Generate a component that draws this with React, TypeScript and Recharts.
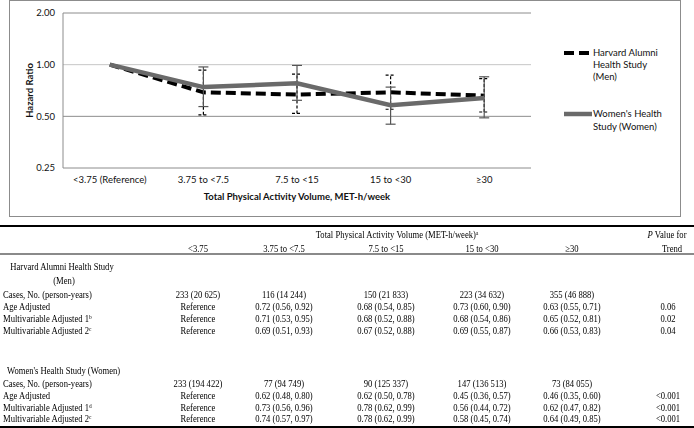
import React from 'react';
import { LineChart, Line, XAxis, YAxis, ErrorBar, ReferenceLine, Label } from 'recharts';

// ---------- chart data ----------
const categories = ['<3.75 (Reference)', '3.75 to <7.5', '7.5 to <15', '15 to <30', '≥30'];
const menHR = [1.0, 0.69, 0.67, 0.69, 0.66];
const menLow = [null, 0.51, 0.52, 0.55, 0.53];
const menHigh = [null, 0.93, 0.88, 0.87, 0.83];
const womenHR = [1.0, 0.74, 0.78, 0.58, 0.64];
const womenLow = [null, 0.57, 0.62, 0.45, 0.49];
const womenHigh = [null, 0.97, 0.99, 0.74, 0.85];
const yTicks = [0.25, 0.5, 1, 2];
const gridLevels = [2, 1, 0.5];

// ---------- table data ----------
const tableCols = ['<3.75', '3.75 to <7.5', '7.5 to <15', '15 to <30', '≥30'];
const menCases = ['233 (20 625)', '116 (14 244)', '150 (21 833)', '223 (34 632)', '355 (46 888)'];
const menAge = ['Reference', '0.72 (0.56, 0.92)', '0.68 (0.54, 0.85)', '0.73 (0.60, 0.90)', '0.63 (0.55, 0.71)'];
const menMA1 = ['Reference', '0.71 (0.53, 0.95)', '0.68 (0.52, 0.88)', '0.68 (0.54, 0.86)', '0.65 (0.52, 0.81)'];
const menMA2 = ['Reference', '0.69 (0.51, 0.93)', '0.67 (0.52, 0.88)', '0.69 (0.55, 0.87)', '0.66 (0.53, 0.83)'];
const menP = ['', '0.06', '0.02', '0.04'];
const womenCases = ['233 (194 422)', '77 (94 749)', '90 (125 337)', '147 (136 513)', '73 (84 055)'];
const womenAge = ['Reference', '0.62 (0.48, 0.80)', '0.62 (0.50, 0.78)', '0.45 (0.36, 0.57)', '0.46 (0.35, 0.60)'];
const womenMA1 = ['Reference', '0.73 (0.56, 0.96)', '0.78 (0.62, 0.99)', '0.56 (0.44, 0.72)', '0.62 (0.47, 0.82)'];
const womenMA2 = ['Reference', '0.74 (0.57, 0.97)', '0.78 (0.62, 0.99)', '0.58 (0.45, 0.74)', '0.64 (0.49, 0.85)'];
const womenP = ['', '<0.001', '<0.001', '<0.001'];

const chartData = categories.map((cat, i) => ({
  cat,
  men: menHR[i],
  women: womenHR[i],
  menErr: menLow[i] == null ? null : [menHR[i] - (menLow[i] as number), (menHigh[i] as number) - menHR[i]],
  womenErr: womenLow[i] == null ? null : [womenHR[i] - (womenLow[i] as number), (womenHigh[i] as number) - womenHR[i]],
}));

const chartFont = 'Lato, "DejaVu Sans", sans-serif';
const tableFont = '"Liberation Serif", "Times New Roman", serif';

const colX = [198, 284, 386, 482, 572];
const pX = 668;
const SX = 0.86; // horizontal squeeze of the table text

const supStyle = { fontSize: 6.2, verticalAlign: 'top', lineHeight: '8px' };

const T = ({ x, y, children, align = 'center' }: any) => {
  const w = 260;
  const xs = x / SX;
  const left = align === 'center' ? xs - w / 2 : align === 'left' ? xs : xs - w;
  return (
    <div
      style={{
        position: 'absolute',
        left,
        top: y - 6,
        width: w,
        height: 12,
        lineHeight: '12px',
        textAlign: align,
        whiteSpace: 'nowrap',
      }}
    >
      {children}
    </div>
  );
};

const Row = ({ y, label, vals, p }: any) => (
  <>
    <T x={3} y={y} align="left">{label}</T>
    {vals.map((v: string, i: number) => (
      <T key={i} x={colX[i]} y={y}>{v}</T>
    ))}
    {p ? <T x={pX} y={y}>{p}</T> : null}
  </>
);

export default function App() {
  return (
    <div style={{ position: 'absolute', left: 0, top: 0, width: 694, height: 428, background: '#fff', overflow: 'hidden' }}>
      {/* chart frame */}
      <div style={{ position: 'absolute', left: 9, top: 0, width: 670, height: 215, border: '1px solid #8c8c8c' }} />
      <div style={{ position: 'absolute', left: 0, top: 0 }}>
        <LineChart width={694} height={216} data={chartData} margin={{ top: 13, right: 163, bottom: 18, left: 0 }}>
          <XAxis
            dataKey="cat"
            scale="band"
            axisLine={{ stroke: '#8c8c8c', strokeWidth: 1 }}
            tickLine={false}
            height={30}
            tick={{ fontFamily: chartFont, fontSize: 9.5, fill: '#111' }}
            interval={0}
          >
            <Label
              value="Total Physical Activity Volume, MET-h/week"
              position="insideBottom"
              offset={-2}
              style={{ fontFamily: chartFont, fontSize: 9.5, fontWeight: 700, fill: '#111' }}
            />
          </XAxis>
          <YAxis
            type="number"
            scale="log"
            domain={[0.25, 2]}
            ticks={yTicks}
            allowDataOverflow
            width={63}
            axisLine={{ stroke: '#8c8c8c', strokeWidth: 1 }}
            tickLine={false}
            tickFormatter={(v: number) => v.toFixed(2)}
            tick={{ fontFamily: chartFont, fontSize: 9.5, fill: '#111' }}
          >
            <Label
              value="Hazard Ratio"
              angle={-90}
              position="center"
              dx={-2}
              style={{ fontFamily: chartFont, fontSize: 9.5, fontWeight: 700, fill: '#111', textAnchor: 'middle' }}
            />
          </YAxis>
          {gridLevels.map((g) => (
            <ReferenceLine key={g} y={g} stroke={g === 1 ? '#c6c6c6' : '#8c8c8c'} strokeWidth={1} ifOverflow="extendDomain" />
          ))}
          <Line
            dataKey="men"
            stroke="#000"
            strokeWidth={4}
            strokeDasharray="10 5"
            dot={false}
            activeDot={false}
            isAnimationActive={false}
          >
            <ErrorBar dataKey="menErr" direction="y" width={5} stroke="#000" strokeWidth={1.2} strokeDasharray="3 2" />
          </Line>
          <Line
            dataKey="women"
            stroke="#6a6a6a"
            strokeWidth={4.5}
            dot={false}
            activeDot={false}
            isAnimationActive={false}
          >
            <ErrorBar dataKey="womenErr" direction="y" width={5} stroke="#555" strokeWidth={1.2} />
          </Line>
        </LineChart>
      </div>

      {/* legend */}
      <svg style={{ position: 'absolute', left: 0, top: 0 }} width={694} height={216}>
        <line x1={564} x2={590} y1={53} y2={53} stroke="#000" strokeWidth={4} strokeDasharray="10 5" />
        <line x1={564} x2={592} y1={114} y2={114} stroke="#6a6a6a" strokeWidth={4.5} />
      </svg>
      <div style={{ position: 'absolute', left: 593, top: 47, fontFamily: chartFont, fontSize: 9.5, lineHeight: '12px', color: '#111' }}>
        Harvard Alumni
        <br />
        Health Study
        <br />
        (Men)
      </div>
      <div style={{ position: 'absolute', left: 593, top: 108, fontFamily: chartFont, fontSize: 9.5, lineHeight: '12.5px', color: '#111' }}>
        Women's Health
        <br />
        Study (Women)
      </div>

      {/* table rules */}
      <div style={{ position: 'absolute', left: 0, top: 225, width: 694, height: 1.5, background: '#000' }} />
      <div style={{ position: 'absolute', left: 0, top: 252.5, width: 694, height: 2, background: '#8a8a8a' }} />
      <div style={{ position: 'absolute', left: 0, top: 426, width: 694, height: 1.5, background: '#000' }} />

      {/* table text */}
      <div
        style={{
          position: 'absolute',
          left: 0,
          top: 0,
          width: 694 / SX,
          height: 428,
          transform: `scaleX(${SX})`,
          transformOrigin: '0 0',
          fontFamily: tableFont,
          fontSize: 10,
          color: '#000',
        }}
      >
        <T x={397} y={235}>
          Total Physical Activity Volume (MET-h/week)<sup style={supStyle}>a</sup>
        </T>
        <T x={667} y={235}>
          <i>P</i> Value for
        </T>
        {tableCols.map((c, i) => (
          <T key={c} x={colX[i]} y={249}>{c}</T>
        ))}
        <T x={672} y={249}>Trend</T>

        <T x={62} y={267}>Harvard Alumni Health Study</T>
        <T x={64} y={281}>(Men)</T>
        <Row y={295} label="Cases, No. (person-years)" vals={menCases} />
        <Row y={307} label="Age Adjusted" vals={menAge} p={menP[1]} />
        <Row
          y={319}
          label={<>Multivariable Adjusted 1<sup style={supStyle}>b</sup></>}
          vals={menMA1}
          p={menP[2]}
        />
        <Row
          y={331}
          label={<>Multivariable Adjusted 2<sup style={supStyle}>c</sup></>}
          vals={menMA2}
          p={menP[3]}
        />

        <T x={7} y={371} align="left">Women's Health Study (Women)</T>
        <Row y={384} label="Cases, No. (person-years)" vals={womenCases} />
        <Row y={396} label="Age Adjusted" vals={womenAge} p={womenP[1]} />
        <Row
          y={407.5}
          label={<>Multivariable Adjusted 1<sup style={supStyle}>d</sup></>}
          vals={womenMA1}
          p={womenP[2]}
        />
        <Row
          y={419}
          label={<>Multivariable Adjusted 2<sup style={supStyle}>c</sup></>}
          vals={womenMA2}
          p={womenP[3]}
        />
      </div>
    </div>
  );
}
